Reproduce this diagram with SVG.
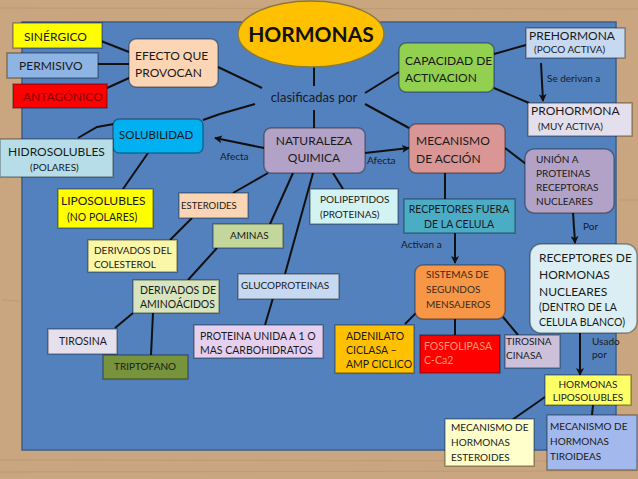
<svg xmlns="http://www.w3.org/2000/svg" width="638" height="479" viewBox="0 0 638 479">
<defs>
<marker id="ah" markerWidth="8" markerHeight="8" refX="7" refY="4" orient="auto" markerUnits="userSpaceOnUse">
<path d="M0,0 L8,4 L0,8 L2,4 Z" fill="#111"/>
</marker>
</defs>
<style>
text{font-family:Lato,"Open Sans","Liberation Sans",sans-serif;fill:#1a1a1a;font-size:10px}
.b{stroke:#000;stroke-opacity:0.35;stroke-width:1.5}
.c line,.c polyline{stroke:#111;stroke-width:2;fill:none}
.m{font-size:12px}
.s{font-size:10px}
</style>
<rect x="0" y="0" width="638" height="479" fill="#c9a680"/>
<g stroke="#b8946d" stroke-width="1" opacity="0.6">
<line x1="0" y1="8" x2="638" y2="9"/><line x1="0" y1="460" x2="638" y2="461"/><line x1="0" y1="472" x2="638" y2="471"/><line x1="620" y1="200" x2="638" y2="200"/><line x1="2" y1="300" x2="20" y2="301"/>
</g>
<rect x="22" y="22" width="594" height="428" fill="#5381be" stroke="#3d5f8c" stroke-width="1.5"/>

<g class="c">
<line x1="314" y1="66" x2="314" y2="86"/>
<line x1="218" y1="67" x2="262" y2="88"/>
<line x1="255" y1="104" x2="220" y2="114"/>
<polyline points="220,114 203,120"/>
<line x1="365" y1="93" x2="399" y2="72"/>
<line x1="365" y1="104" x2="409" y2="128"/>
<line x1="314" y1="110" x2="314" y2="128"/>
<line x1="101" y1="41" x2="129" y2="52"/>
<line x1="98" y1="64" x2="129" y2="64"/>
<line x1="107" y1="88" x2="129" y2="78"/>
<line x1="494" y1="54" x2="526" y2="45"/>
<line x1="494" y1="88" x2="529" y2="103"/>
<line x1="541" y1="63" x2="543" y2="101" marker-end="url(#ah)"/>
<polyline points="114,124 97,127 78,138"/>
<line x1="148" y1="153" x2="123" y2="189"/>
<line x1="264" y1="148" x2="215" y2="138" marker-end="url(#ah)"/>
<line x1="365" y1="153" x2="409" y2="148" marker-end="url(#ah)"/>
<line x1="268" y1="173" x2="233" y2="193"/>
<line x1="293" y1="173" x2="270" y2="224"/>
<line x1="313" y1="173" x2="285" y2="274"/>
<line x1="333" y1="173" x2="343" y2="189"/>
<line x1="192" y1="218" x2="170" y2="240"/>
<line x1="217" y1="248" x2="188" y2="280"/>
<line x1="133" y1="313" x2="115" y2="328"/>
<line x1="153" y1="313" x2="151" y2="355"/>
<line x1="273" y1="298" x2="265" y2="325"/>
<line x1="445" y1="173" x2="445" y2="199"/>
<line x1="505" y1="148" x2="526" y2="164"/>
<line x1="573" y1="212" x2="575" y2="243" marker-end="url(#ah)"/>
<line x1="455" y1="233" x2="455" y2="263" marker-end="url(#ah)"/>
<line x1="416" y1="313" x2="405" y2="324"/>
<line x1="455" y1="319" x2="455" y2="335"/>
<line x1="503" y1="317" x2="518" y2="335"/>
<line x1="580" y1="332" x2="580" y2="375" marker-end="url(#ah)"/>
<line x1="545" y1="397" x2="512" y2="420"/>
<line x1="593" y1="405" x2="592" y2="415"/>
</g>

<g id="hormonas"><ellipse cx="311" cy="34" rx="73" ry="33" fill="#ffc000" stroke="#8a7a3a" stroke-width="1.5"/><text x="311" y="42" text-anchor="middle" style="font-size:21px;font-weight:bold;fill:#111">HORMONAS</text></g>
<g id="clasificadas"><text x="314" y="102" text-anchor="middle" style="font-size:13px">clasificadas por</text></g>

<g id="sinergico"><rect class="b" x="13" y="23" width="89" height="25" fill="#ffff00"/><text x="24" y="41" class="m">SINÉRGICO</text></g>
<g id="permisivo"><rect class="b" x="7" y="53" width="91" height="25" fill="#8db4e2"/><text x="19" y="70" class="m">PERMISIVO</text></g>
<g id="antagonico"><rect class="b" x="13" y="84" width="94" height="24" fill="#ff0000"/><text x="23" y="101" class="m" style="fill:#8b0000">ANTAGÓNICO</text></g>
<g id="efecto"><rect class="b" x="129" y="39" width="89" height="48" rx="7" fill="#fcd5b4"/><text x="135" y="60" class="m">EFECTO QUE</text><text x="135" y="77" class="m">PROVOCAN</text></g>
<g id="capacidad"><rect class="b" x="399" y="43" width="95" height="49" rx="7" fill="#92d050"/><text x="405" y="65" class="m">CAPACIDAD DE</text><text x="405" y="82" class="m">ACTIVACION</text></g>
<g id="prehormona"><rect class="b" x="526" y="28" width="99" height="30" fill="#c6d9f1"/><text x="529" y="40" class="m">PREHORMONA</text><text x="534" y="53" class="s">(POCO ACTIVA)</text></g>
<g id="sederivan"><text x="547" y="82" class="s">Se derivan a</text></g>
<g id="prohormona"><rect class="b" x="528" y="103" width="104" height="33" fill="#e4dfec"/><text x="531" y="115" class="m">PROHORMONA</text><text x="538" y="130" class="s">(MUY ACTIVA)</text></g>
<g id="solubilidad"><rect class="b" x="113" y="119" width="90" height="34" rx="6" fill="#00b0f0"/><text x="119" y="139" style="font-size:11.5px">SOLUBILIDAD</text></g>
<g id="hidrosolubles"><rect class="b" x="0" y="139" width="113" height="38" fill="#b7dee8"/><text x="8" y="156" class="m">HIDROSOLUBLES</text><text x="30" y="171" class="s">(POLARES)</text></g>
<g id="liposolubles"><rect class="b" x="58" y="189" width="95" height="39" fill="#ffff00"/><text x="61" y="205" class="m">LIPOSOLUBLES</text><text x="67" y="221" style="font-size:10.5px">(NO POLARES)</text></g>
<g id="esteroides"><rect class="b" x="179" y="193" width="69" height="25" fill="#fcd5b4"/><text x="181" y="209" style="font-size:9.5px">ESTEROIDES</text></g>
<g id="afecta1"><text x="220" y="160" class="s">Afecta</text></g>
<g id="naturaleza"><rect class="b" x="264" y="128" width="101" height="45" rx="7" fill="#b3a2c7"/><text x="314" y="145" text-anchor="middle" class="m">NATURALEZA</text><text x="314" y="162" text-anchor="middle" class="m">QUIMICA</text></g>
<g id="afecta2"><text x="367" y="164" class="s">Afecta</text></g>
<g id="mecanismo"><rect class="b" x="409" y="124" width="96" height="49" rx="7" fill="#da9694"/><text x="416" y="145" class="m">MECANISMO</text><text x="416" y="163" class="m">DE ACCIÓN</text></g>
<g id="polipeptidos"><rect class="b" x="310" y="189" width="88" height="35" fill="#d3f2f2"/><text x="320" y="203" class="s">POLIPEPTIDOS</text><text x="320" y="218" class="s">(PROTEINAS)</text></g>
<g id="recpetores"><rect class="b" x="404" y="199" width="111" height="34" fill="#4bacc6"/><text x="459" y="213" text-anchor="middle" style="font-size:10.5px">RECPETORES FUERA</text><text x="459" y="228" text-anchor="middle" style="font-size:10.5px">DE LA CELULA</text></g>
<g id="union"><rect class="b" x="525" y="149" width="89" height="64" rx="9" fill="#b3a2c7"/><text x="536" y="163" class="s">UNIÓN A</text><text x="536" y="177" class="s">PROTEINAS</text><text x="536" y="191" class="s">RECEPTORAS</text><text x="536" y="205" class="s">NUCLEARES</text></g>
<g id="por"><text x="583" y="230" class="s">Por</text></g>
<g id="aminas"><rect class="b" x="213" y="224" width="70" height="24" fill="#c3d69b"/><text x="230" y="239" class="s">AMINAS</text></g>
<g id="dercolesterol"><rect class="b" x="88" y="240" width="89" height="32" fill="#fbf7a9"/><text x="94" y="254" class="s">DERIVADOS DEL</text><text x="94" y="268" class="s">COLESTEROL</text></g>
<g id="activan"><text x="401" y="248" class="s">Activan a</text></g>
<g id="receptoresnuc"><rect class="b" x="530" y="244" width="107" height="89" rx="11" fill="#dbeef4"/><text x="539" y="262" class="m">RECEPTORES DE</text><text x="539" y="279" class="m">HORMONAS</text><text x="539" y="296" class="m">NUCLEARES</text><text x="539" y="311" style="font-size:10.5px">(DENTRO DE LA</text><text x="539" y="326" style="font-size:10.5px">CELULA BLANCO)</text></g>
<g id="sistemas"><rect class="b" x="415" y="265" width="90" height="54" rx="8" fill="#f79646"/><text x="426" y="278" class="s" style="fill:#3a2a1a">SISTEMAS DE</text><text x="426" y="293" class="s" style="fill:#3a2a1a">SEGUNDOS</text><text x="426" y="308" class="s" style="fill:#3a2a1a">MENSAJEROS</text></g>
<g id="glucoproteinas"><rect class="b" x="238" y="274" width="101" height="25" fill="#c6d9f1"/><text x="241" y="289" class="s">GLUCOPROTEINAS</text></g>
<g id="deraminoacidos"><rect class="b" x="133" y="280" width="86" height="33" fill="#d7e4bd"/><text x="140" y="294" style="font-size:10.5px">DERIVADOS DE</text><text x="140" y="308" style="font-size:10.5px">AMINOÁCIDOS</text></g>
<g id="tirosina"><rect class="b" x="48" y="329" width="69" height="25" fill="#e6e0ec"/><text x="59" y="345" style="font-size:10.5px">TIROSINA</text></g>
<g id="triptofano"><rect class="b" x="103" y="355" width="85" height="24" fill="#77933c"/><text x="114" y="370" class="s">TRIPTOFANO</text></g>
<g id="proteinaunida"><rect class="b" x="194" y="325" width="129" height="33" fill="#e6d0f0"/><text x="200" y="340" style="font-size:10.5px">PROTEINA UNIDA A 1 O</text><text x="200" y="354" style="font-size:10.5px">MAS CARBOHIDRATOS</text></g>
<g id="adenilato"><rect class="b" x="335" y="325" width="79" height="48" fill="#ffc000"/><text x="346" y="340" style="font-size:10.5px">ADENILATO</text><text x="346" y="354" style="font-size:10.5px">CICLASA –</text><text x="346" y="368" style="font-size:10.5px">AMP CICLICO</text></g>
<g id="fosfolipasa"><rect class="b" x="420" y="335" width="80" height="38" fill="#ff0000"/><text x="424" y="350" style="font-size:10.5px;fill:#ff9a70">FOSFOLIPASA</text><text x="424" y="364" style="font-size:10.5px;fill:#ff9a70">C-Ca2</text></g>
<g id="tirosinacinasa"><rect class="b" x="505" y="335" width="55" height="33" fill="#ccc0da"/><text x="506" y="345" class="s">TIROSINA</text><text x="506" y="359" class="s">CINASA</text></g>
<g id="usado"><text x="592" y="345" class="s">Usado</text><text x="592" y="358" class="s">por</text></g>
<g id="hormonaslipo"><rect class="b" x="545" y="375" width="86" height="30" fill="#ffff66"/><text x="588" y="388" text-anchor="middle" class="s">HORMONAS</text><text x="588" y="401" text-anchor="middle" class="s">LIPOSOLUBLES</text></g>
<g id="mecesteroides"><rect class="b" x="445" y="419" width="89" height="47" fill="#ffffcc"/><text x="451" y="431" class="s">MECANISMO DE</text><text x="451" y="446" class="s">HORMONAS</text><text x="451" y="461" class="s">ESTEROIDES</text></g>
<g id="mectiroideas"><rect class="b" x="547" y="415" width="90" height="55" fill="#a3b9ee"/><text x="550" y="430" class="s">MECANISMO DE</text><text x="550" y="445" class="s">HORMONAS</text><text x="550" y="460" class="s">TIROIDEAS</text></g>
</svg>
